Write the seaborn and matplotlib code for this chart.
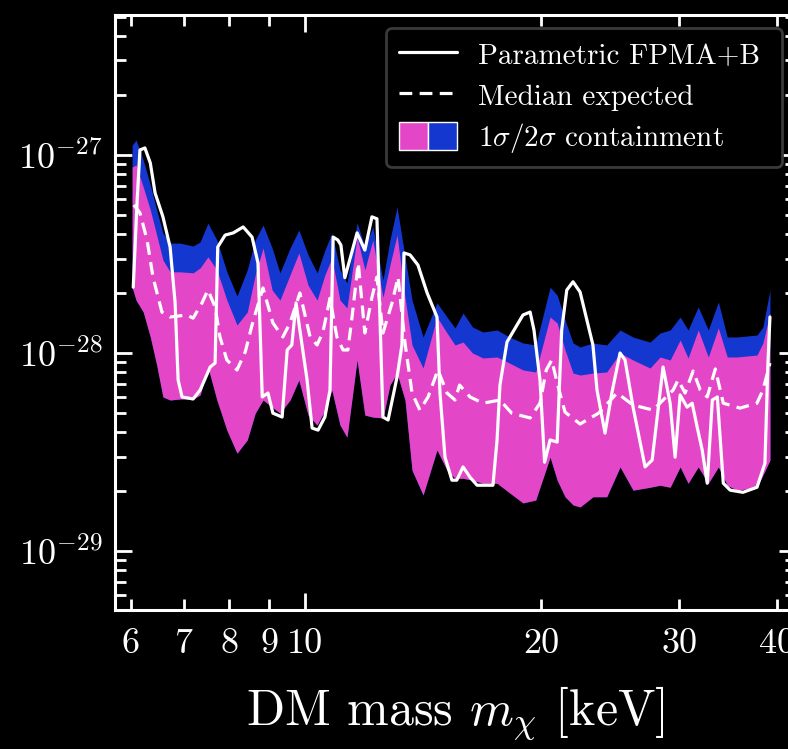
import numpy as np
import pandas as pd
import matplotlib
matplotlib.use("Agg")
import matplotlib.pyplot as plt
import seaborn as sns
from matplotlib.patches import Patch
from matplotlib.lines import Line2D
from matplotlib.legend_handler import HandlerTuple
from matplotlib.ticker import LogLocator, FuncFormatter, NullFormatter

# ---------------- data (sigma v in units of 1e-28) ----------------
UNIT = 1e-28

band_mass = [6.02, 6.09, 6.22, 6.35, 6.47, 6.59, 6.73, 6.93, 7.20, 7.35, 7.52, 7.72, 7.95, 8.19,
             8.44, 8.64, 8.84, 9.08, 9.29, 9.57, 9.82, 10.09, 10.36, 10.60, 10.82, 11.08, 11.31,
             11.65, 11.92, 12.20, 12.57, 12.83, 13.10, 13.41, 13.69, 14.14, 14.73, 15.17, 15.53,
             15.90, 16.35, 16.86, 17.57, 18.22, 18.96, 19.68, 20.53, 20.96, 21.45, 21.96, 22.42,
             23.28, 24.24, 25.21, 26.19, 27.53, 28.35, 29.20, 30.07, 30.78, 31.71, 32.66, 33.64,
             34.53, 35.54, 37.68, 38.34, 39.14]
band_2sig_hi = [11.2, 11.9, 9.43, 7.05, 5.28, 4.03, 3.59, 3.59, 3.47, 3.64, 4.53, 3.72, 2.57, 1.94,
                2.63, 3.72, 4.43, 3.39, 2.54, 3.39, 4.18, 3.13, 2.54, 3.31, 4.03, 2.63, 2.26,
                4.54, 3.43, 4.33, 2.34, 3.72, 5.46, 3.06, 1.85, 1.204, 1.79, 1.52, 1.338,
                1.593, 1.353, 1.277, 1.307, 1.205, 1.124, 1.098, 2.15, 1.96, 1.468, 1.124, 1.072,
                1.124, 1.098, 1.307, 1.204, 1.136, 1.262, 1.307, 1.52, 1.307, 1.71, 1.307, 1.81,
                1.205, 1.205, 1.233, 1.353, 2.08]
band_1sig_hi = [8.70, 8.90, 6.89, 5.28, 3.94, 2.95, 2.57, 2.57, 2.54, 2.69, 3.06, 2.63, 1.85, 1.385,
                1.61, 2.48, 3.39, 2.08, 1.85, 2.48, 3.20, 2.20, 1.85, 2.48, 3.02, 1.85, 1.69,
                3.85, 2.63, 3.72, 1.91, 2.78, 3.94, 1.91, 1.098, 0.840, 1.52, 1.262, 1.098,
                1.136, 1.0, 0.944, 0.955, 0.890, 0.821, 0.802, 1.52, 1.418, 1.036, 0.792, 0.774,
                0.792, 0.802, 1.0, 0.922, 0.840, 0.955, 0.922, 1.163, 0.944, 1.307, 0.955, 1.338,
                0.955, 0.955, 0.977, 1.124, 1.593]
band_lo = [2.15, 1.85, 1.61, 1.205, 0.870, 0.600, 0.579, 0.586, 0.586, 0.614, 0.850, 0.579, 0.408,
           0.312, 0.364, 0.497, 0.579, 0.533, 0.497, 0.579, 0.731, 0.486, 0.433, 0.515, 0.650,
           0.433, 0.376, 0.922, 0.486, 0.475, 0.470, 0.689, 0.792, 0.579, 0.256, 0.192, 0.324,
           0.256, 0.233, 0.233, 0.228, 0.220, 0.220, 0.197, 0.175, 0.181, 0.298, 0.228, 0.188,
           0.171, 0.167, 0.188, 0.188, 0.266, 0.203, 0.210, 0.215, 0.210, 0.266, 0.220, 0.266,
           0.220, 0.266, 0.215, 0.203, 0.210, 0.242, 0.288]

obs_mass = [6.04, 6.11, 6.16, 6.25, 6.35, 6.44, 6.59, 6.73, 6.83, 6.89, 6.97, 7.20, 7.35, 7.57,
            7.68, 7.74, 7.91, 8.10, 8.34, 8.56, 8.71, 8.82, 8.97, 9.10, 9.35, 9.49, 9.62, 9.74,
            9.85, 10.06, 10.21, 10.39, 10.60, 10.76, 10.86, 11.01, 11.11, 11.24, 11.65, 11.92,
            12.17, 12.35, 12.57, 12.76, 13.10, 13.29, 13.37, 13.61, 13.93, 14.31, 14.73, 14.86,
            15.08, 15.39, 15.61, 15.90, 16.23, 16.57, 17.36, 17.57, 17.72, 18.09, 18.63, 18.96,
            19.36, 19.58, 19.93, 20.20, 20.53, 20.96, 21.24, 21.56, 21.96, 22.42, 23.28, 23.56,
            24.12, 24.62, 25.21, 25.58, 26.19, 27.13, 27.70, 28.60, 29.20, 29.63, 30.07, 30.69,
            31.15, 31.61, 32.08, 32.56, 33.05, 33.54, 34.13, 34.83, 36.16, 37.68, 38.57, 38.91,
            39.14]
obs_limit = [2.15, 5.93, 10.6, 10.85, 9.11, 6.43, 4.87, 3.43, 1.79, 0.731, 0.600, 0.586, 0.650,
             0.850, 0.890, 3.43, 3.94, 4.04, 4.33, 3.85, 2.85, 0.600, 0.628, 0.497, 0.475, 1.036,
             1.098, 1.79, 1.307, 0.731, 0.418, 0.408, 0.475, 0.650, 3.85, 3.72, 3.51, 2.40, 4.04,
             3.31, 4.87, 4.76, 0.475, 0.459, 0.756, 1.098, 3.20, 3.13, 2.78, 2.01, 1.52, 0.628,
             0.298, 0.228, 0.228, 0.266, 0.236, 0.215, 0.215, 0.364, 0.689, 1.136, 1.385, 1.556,
             1.61, 1.307, 0.731, 0.281, 0.364, 0.355, 1.307, 2.08, 2.29, 2.03, 1.098, 0.650,
             0.394, 0.634, 1.0, 0.922, 0.533, 0.266, 0.288, 0.850, 0.558, 0.298, 0.614, 0.533,
             0.558, 0.423, 0.324, 0.220, 0.579, 0.600, 0.220, 0.203, 0.198, 0.210, 0.278, 0.890,
             1.52]

med_mass = [6.05, 6.16, 6.29, 6.40, 6.57, 6.73, 7.07, 7.20, 7.39, 7.52, 7.68, 7.79, 7.95, 8.19,
            8.39, 8.58, 8.84, 9.10, 9.37, 9.57, 9.85, 10.15, 10.36, 10.54, 10.76, 10.98, 11.18,
            11.34, 11.48, 11.69, 11.92, 12.17, 12.35, 12.57, 12.91, 13.14, 13.41, 13.69, 14.01,
            14.35, 14.77, 15.17, 15.53, 15.74, 16.23, 16.86, 17.72, 18.34, 19.36, 19.93, 20.30,
            20.63, 20.96, 21.45, 22.42, 23.67, 24.99, 26.19, 27.78, 28.60, 29.46, 29.89, 30.51,
            31.24, 31.90, 32.56, 33.34, 34.13, 35.85, 37.68, 38.34, 38.79, 39.14]
med_limit = [5.59, 5.10, 3.72, 2.42, 1.61, 1.52, 1.556, 1.50, 1.79, 2.08, 1.71, 1.205, 0.922,
             0.821, 1.012, 1.434, 2.13, 1.418, 1.205, 1.418, 2.01, 1.205, 1.098, 1.277, 1.89,
             1.205, 1.036, 1.036, 1.52, 2.85, 1.262, 1.91, 2.42, 1.262, 1.79, 2.42, 1.124,
             0.628, 0.515, 0.600, 0.821, 0.628, 0.579, 0.689, 0.600, 0.558, 0.579, 0.497,
             0.470, 0.558, 0.821, 0.922, 0.705, 0.503, 0.438, 0.497, 0.628, 0.546, 0.515,
             0.579, 0.650, 0.731, 0.628, 0.811, 0.650, 0.600, 0.831, 0.558, 0.527, 0.558,
             0.650, 0.774, 0.890]

x_tick_values = [6, 7, 8, 9, 10, 20, 30, 40]
legend_labels = ["Parametric FPMA+B ", "Median expected", r"$1\sigma/2\sigma$ containment"]

PINK = "#E446C8"
BLUE = "#1437D0"
DASH = (0, (4.0, 2.3))
LW = 2.3

# ---------------- style ----------------
sns.set_theme(style="ticks")
plt.rcParams.update({
    "font.family": "serif",
    "font.serif": ["cmr10", "DejaVu Serif"],
    "mathtext.fontset": "cm",
    "axes.formatter.use_mathtext": True,
    "axes.unicode_minus": False,
    "text.color": "white",
    "axes.labelcolor": "white",
    "xtick.color": "white",
    "ytick.color": "white",
    "axes.edgecolor": "white",
    "figure.facecolor": "black",
    "axes.facecolor": "black",
    "savefig.facecolor": "black",
})

W, H = 788, 749
fig = plt.figure(figsize=(W / 100, H / 100), dpi=100)
ax_left, ax_right, ax_top, ax_bot = 115, 796, 15, 610
ax = fig.add_axes([ax_left / W, 1 - ax_bot / H, (ax_right - ax_left) / W, (ax_bot - ax_top) / H])
ax.set_facecolor("black")
ax.set_xscale("log")
ax.set_yscale("log")

bm = np.array(band_mass)
ax.fill_between(bm, np.array(band_lo) * UNIT, np.array(band_2sig_hi) * UNIT,
                color=BLUE, lw=0, zorder=1)
ax.fill_between(bm, np.array(band_lo) * UNIT, np.array(band_1sig_hi) * UNIT,
                color=PINK, lw=0, zorder=2)

med_df = pd.DataFrame({"mass": med_mass, "limit": np.array(med_limit) * UNIT})
obs_df = pd.DataFrame({"mass": obs_mass, "limit": np.array(obs_limit) * UNIT})
sns.lineplot(data=med_df, x="mass", y="limit", ax=ax, color="white", lw=LW,
             linestyle=DASH, estimator=None, sort=False, zorder=3)
sns.lineplot(data=obs_df, x="mass", y="limit", ax=ax, color="white", lw=LW,
             estimator=None, sort=False, zorder=4)

ax.set_xlim(5.725, 42.25)
ax.set_ylim(5.04e-30, 5.09e-27)

# ticks
ax.xaxis.set_major_locator(LogLocator(base=10))
ax.xaxis.set_minor_locator(LogLocator(base=10, subs=np.arange(2, 10)))
def _fmt(v, pos):
    r = int(round(v))
    if abs(v - r) < 1e-6 and r in x_tick_values:
        return str(r)
    return ""
ax.xaxis.set_major_formatter(FuncFormatter(_fmt))
ax.xaxis.set_minor_formatter(FuncFormatter(_fmt))
ax.yaxis.set_major_locator(LogLocator(base=10))
ax.yaxis.set_minor_locator(LogLocator(base=10, subs=np.arange(2, 10)))
ax.yaxis.set_minor_formatter(NullFormatter())

ax.tick_params(which="both", direction="in", top=True, right=True, colors="white",
               labelsize=26)
ax.tick_params(which="major", length=12, width=2)
ax.tick_params(which="minor", length=8, width=2)
ax.tick_params(axis="x", which="both", pad=13)
ax.tick_params(axis="y", which="both", pad=9)
for s in ax.spines.values():
    s.set_linewidth(2.2)
    s.set_color("white")

ax.set_xlabel(r"DM mass $m_\chi$ [keV]", fontsize=36, labelpad=18)
ax.set_ylabel("")
ax.yaxis.label.set_visible(False)

# legend
h_obs = Line2D([], [], color="white", lw=LW)
h_med = Line2D([], [], color="white", lw=LW, ls=DASH)
h_band = (Patch(facecolor=PINK, edgecolor="white", lw=1.0),
          Patch(facecolor=BLUE, edgecolor="white", lw=1.0))
leg = ax.legend([h_obs, h_med, h_band], legend_labels,
                handler_map={tuple: HandlerTuple(ndivide=None, pad=0)},
                loc="upper right", bbox_to_anchor=(782 / W, 1 - 28 / H),
                bbox_transform=fig.transFigure, borderaxespad=0, fontsize=21,
                frameon=True, fancybox=True, facecolor="black", edgecolor="#3a3a3a",
                framealpha=1, handlelength=2.0, handleheight=1.1, handletextpad=0.72,
                labelspacing=0.36, borderpad=0.42)
leg.get_frame().set_linewidth(2)
for t in leg.get_texts():
    t.set_color("white")

fig.savefig("out.png", dpi=100, facecolor="black")
